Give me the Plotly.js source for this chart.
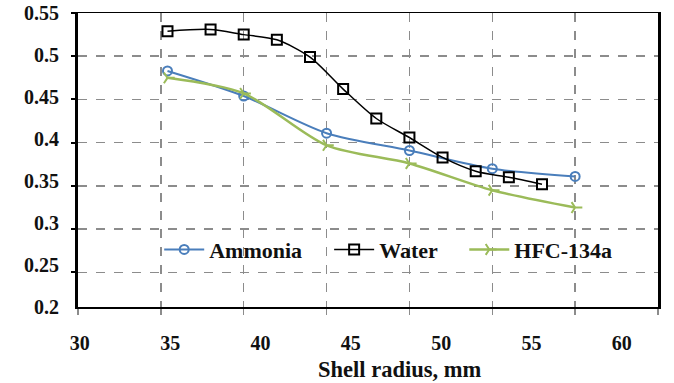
<!DOCTYPE html>
<html>
<head>
<meta charset="utf-8">
<script src="https://cdn.plot.ly/plotly-3.0.1.min.js"></script>
<style>html,body{margin:0;padding:0;background:#fff;}#chart{width:674px;height:383px;}</style>
</head>
<body>
<div id="chart"></div>
<script>
// Data
const ammoniaX = [35.4, 40, 45, 50, 55, 60];
const ammoniaY = [0.483, 0.454, 0.411, 0.391, 0.370, 0.361];
const waterX = [35.4, 38, 40, 42, 44, 46, 48, 50, 52, 54, 56, 58];
const waterY = [0.529, 0.531, 0.525, 0.519, 0.499, 0.462, 0.428, 0.406, 0.383, 0.367, 0.360, 0.352];
const hfcX = [35.4, 40, 45, 50, 55, 60];
const hfcY = [0.475, 0.457, 0.397, 0.376, 0.345, 0.325];
const xTickLabels = [30, 35, 40, 45, 50, 55, 60];
const yTickLabels = [0.2, 0.25, 0.3, 0.35, 0.4, 0.45, 0.5, 0.55];
const yTickText = ['0.2', '0.25', '0.3', '0.35', '0.4', '0.45', '0.5', '0.55'];
const xTitle = 'Shell radius, mm';

const serif = 'Liberation Serif, Times New Roman, serif';
const legendFont = {family: serif, size: 22, color: '#111111', weight: 'bold'};

const traces = [
  {x: ammoniaX, y: ammoniaY, name: 'Ammonia', mode: 'lines+markers', legend: 'legend',
   line: {color: '#4a7ebb', width: 2, shape: 'spline', smoothing: 0.8},
   marker: {symbol: 'circle-open', size: 9, color: '#4a7ebb', line: {width: 2}}},
  {x: waterX, y: waterY, name: 'Water', mode: 'lines+markers', legend: 'legend2',
   line: {color: '#000000', width: 1.5, shape: 'spline', smoothing: 0.8},
   marker: {symbol: 'square-open', size: 10, color: '#000000', line: {width: 2}}},
  {x: hfcX, y: hfcY, name: 'HFC-134a', mode: 'lines+markers', legend: 'legend3',
   line: {color: '#9bbb59', width: 2.5, shape: 'spline', smoothing: 0.8},
   marker: {symbol: 'y-right-open', size: 9, color: '#9bbb59', line: {width: 2}}},
  // carrier for the label-only axes (draws nothing)
  {x: [xTickLabels[0], xTickLabels[xTickLabels.length - 1]],
   y: [yTickLabels[0], yTickLabels[yTickLabels.length - 1]],
   xaxis: 'x2', yaxis: 'y2', mode: 'none', showlegend: false, hoverinfo: 'skip'}
];

function legendAt(x) {
  return {orientation: 'h', x: x, y: 0.195, xanchor: 'left', yanchor: 'middle',
          bgcolor: 'rgba(0,0,0,0)', font: legendFont, itemwidth: 40};
}

const layout = {
  width: 674, height: 383,
  margin: {l: 78, r: 16, t: 13, b: 76},
  paper_bgcolor: '#ffffff', plot_bgcolor: '#ffffff',
  showlegend: true,
  legend: legendAt(0.14),
  legend2: legendAt(0.433),
  legend3: legendAt(0.666),
  xaxis: {range: [30, 65], dtick: 5, tick0: 30, showticklabels: false,
          showgrid: true, gridcolor: '#8c8c8c', griddash: 'dash', gridwidth: 1.5,
          showline: true, linecolor: '#000000', linewidth: 1.5, mirror: true,
          ticks: 'outside', ticklen: 6, tickcolor: '#8c8c8c', tickwidth: 1.5,
          zeroline: false, fixedrange: true},
  yaxis: {range: [0.21, 0.55], dtick: 0.05, tick0: 0.2, showticklabels: false,
          showgrid: true, gridcolor: '#8c8c8c', griddash: 'dash', gridwidth: 1.5,
          showline: true, linecolor: '#000000', linewidth: 3, mirror: true,
          ticks: 'outside', ticklen: 4, tickcolor: '#000000', tickwidth: 2,
          zeroline: false, fixedrange: true},
  xaxis2: {overlaying: 'x', side: 'bottom', anchor: 'y2', range: [29.9, 62],
           tickvals: xTickLabels, ticktext: xTickLabels.map(String),
           showgrid: false, showline: false, zeroline: false, ticks: '',
           ticklabelstandoff: 22, automargin: false,
           tickfont: {family: serif, size: 20, color: '#111111', weight: 'bold'},
           fixedrange: true},
  yaxis2: {overlaying: 'y', side: 'left', anchor: 'x2', range: [0.2, 0.55],
           tickvals: yTickLabels, ticktext: yTickText,
           showgrid: false, showline: false, zeroline: false, ticks: '',
           ticklabelstandoff: 18, automargin: false,
           tickfont: {family: serif, size: 20, color: '#111111', weight: 'bold'},
           fixedrange: true},
  annotations: [{text: xTitle, xref: 'paper', yref: 'paper', x: 0.555, y: -0.214,
                 xanchor: 'center', yanchor: 'middle', showarrow: false,
                 font: {family: serif, size: 22.5, color: '#111111', weight: 'bold'}}]
};

Plotly.newPlot('chart', traces, layout, {displayModeBar: false, staticPlot: true});
</script>
</body>
</html>
